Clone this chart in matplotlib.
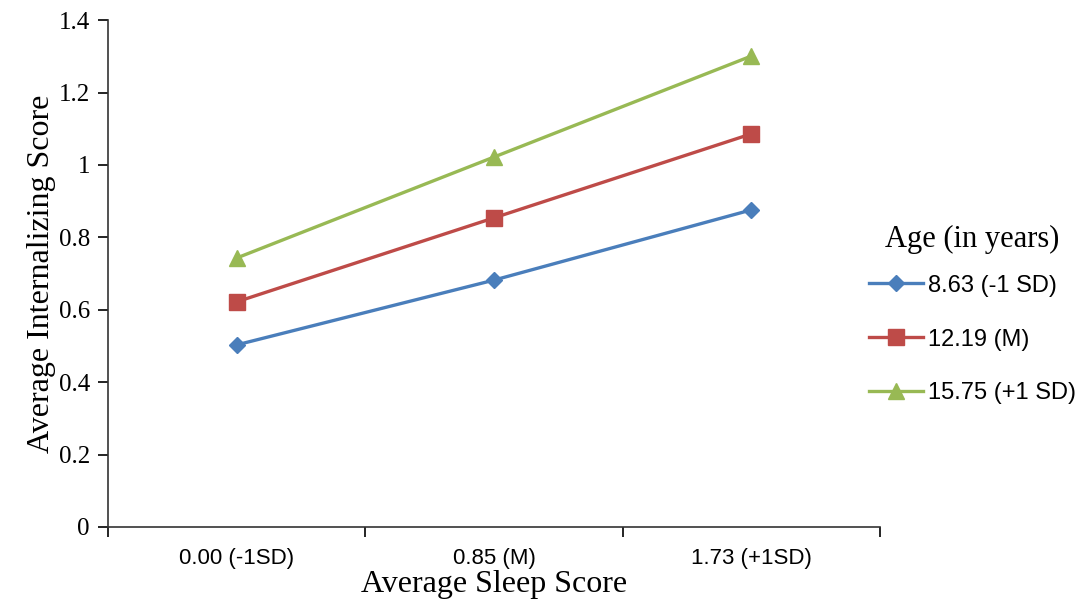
import numpy as np
import matplotlib.pyplot as plt

# ---------------- data ----------------
sleep_labels = ['0.00 (-1SD)', '0.85 (M)', '1.73 (+1SD)']
age_groups   = ['8.63 (-1 SD)', '12.19 (M)', '15.75 (+1 SD)']
low_age  = [0.503, 0.682, 0.876]
mean_age = [0.622, 0.854, 1.086]
high_age = [0.743, 1.022, 1.301]

colors  = ['#4a7ebb', '#be4b48', '#98b954']
markers = ['D', 's', '^']
msizes  = [8.5, 11, 11]

serif = ['Liberation Serif', 'DejaVu Serif']
sans  = ['Liberation Sans', 'DejaVu Sans']

# ---------------- plot ----------------
fig = plt.figure(figsize=(10.83, 6.11), dpi=100)
ax = fig.add_axes([0.0997, 0.1375, 0.713, 0.8295])

x = np.arange(len(sleep_labels))
for vals, c, m, ms, lab in zip([low_age, mean_age, high_age], colors, markers, msizes, age_groups):
    ax.plot(x, vals, color=c, lw=2.4, marker=m, ms=ms, label=lab)

ax.set_xlim(-0.5, 2.5)
ax.set_ylim(0, 1.4)
ax.set_yticks(np.arange(0, 1.41, 0.2))
ax.set_yticklabels(['0', '0.2', '0.4', '0.6', '0.8', '1', '1.2', '1.4'],
                   fontfamily=serif, fontsize=18)

# category labels between boundary ticks (Excel style)
ax.set_xticks([-0.5, 0.5, 1.5, 2.5])
ax.set_xticklabels([])
ax.set_xticks(x, minor=True)
ax.set_xticklabels(sleep_labels, minor=True, fontfamily=sans, fontsize=16)
ax.tick_params(axis='x', which='minor', length=0, pad=15)
ax.tick_params(axis='x', which='major', length=7, width=1.2, direction='out')
ax.tick_params(axis='y', length=7, width=1.2, direction='out', pad=6)

for s in ['top', 'right']:
    ax.spines[s].set_visible(False)
for s in ['left', 'bottom']:
    ax.spines[s].set_linewidth(1.2)
    ax.spines[s].set_color('#333333')

ax.set_xlabel('Average Sleep Score', fontfamily=serif, fontsize=23, labelpad=1)
ax.set_ylabel('Average Internalizing Score', fontfamily=serif, fontsize=23, labelpad=2)

leg = ax.legend(loc='center left', bbox_to_anchor=(0.7935, 0.485),
                bbox_transform=fig.transFigure, frameon=False,
                title='Age (in years)', handlelength=2.3, handletextpad=0.2,
                labelspacing=1.35, borderaxespad=0,
                prop={'family': sans, 'size': 17})
leg.get_title().set_fontfamily(serif)
leg.get_title().set_fontsize(22)
leg._legend_box.sep = 15  # tighter gap under the title

fig.savefig('out.png', dpi=100)
